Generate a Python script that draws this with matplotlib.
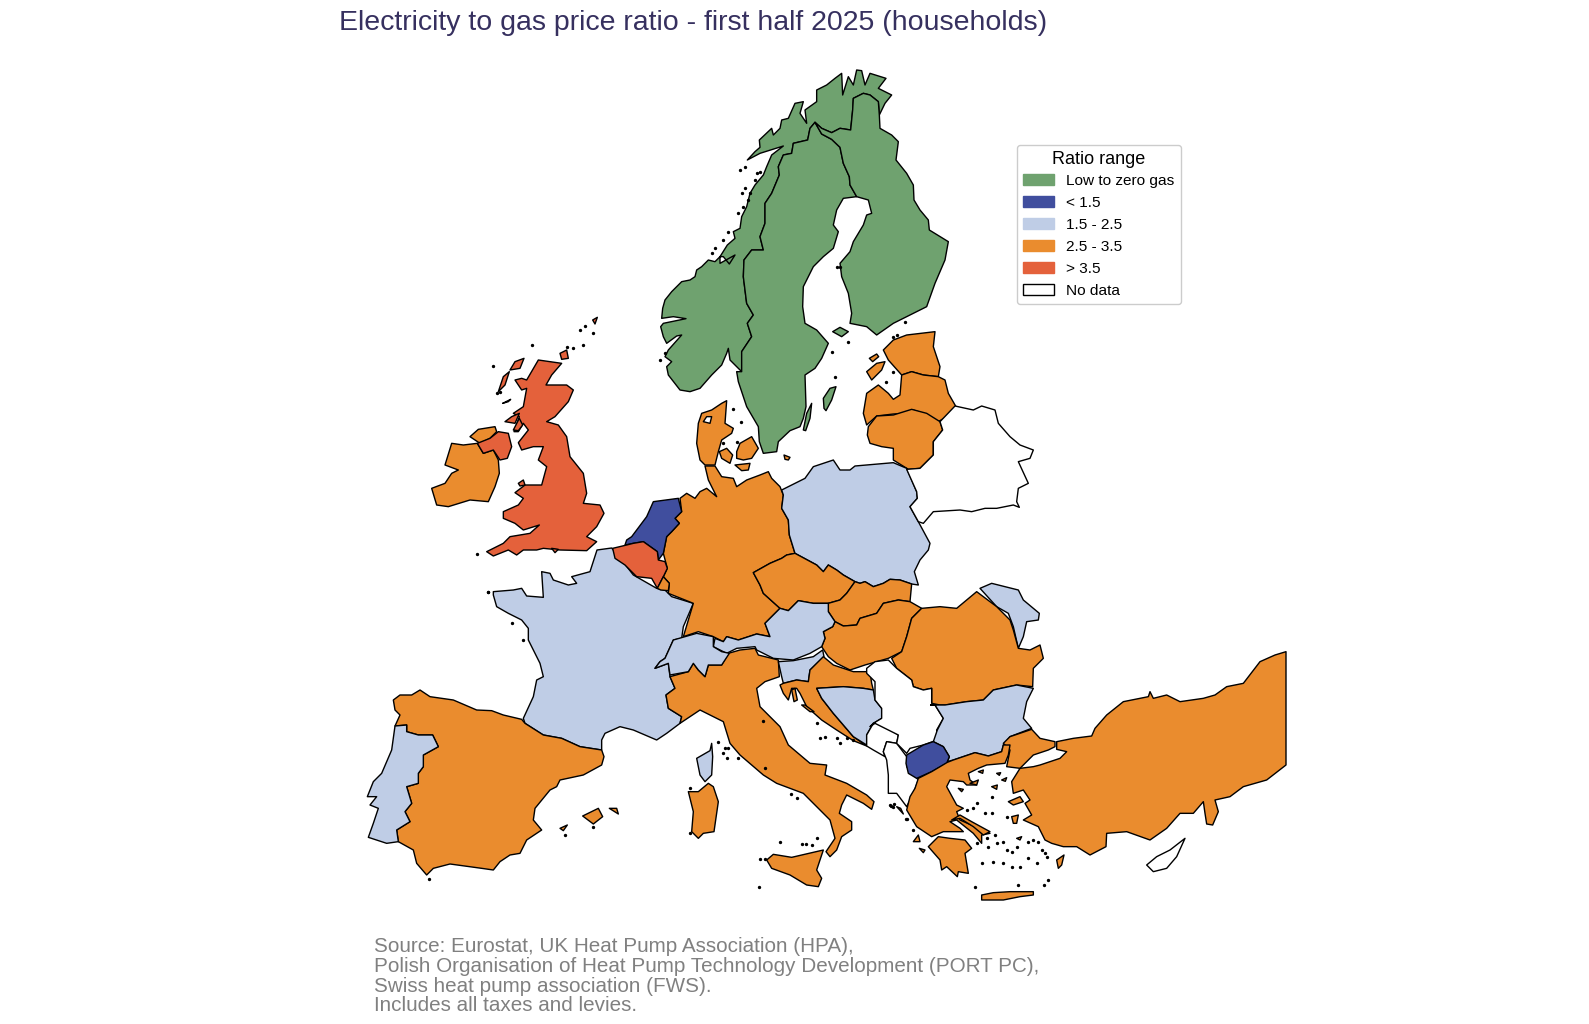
import matplotlib
matplotlib.use("Agg")
import matplotlib.pyplot as plt
from matplotlib.patches import Patch

plt.rcParams['font.family'] = ['Liberation Sans', 'DejaVu Sans']

# Couleurs des classes
GREEN = "#6fa26f"
DARK_BLUE = "#404e9e"
LIGHT_BLUE = "#bfcde6"
ORANGE = "#ea8c2e"
RED = "#e4613b"
WHITE = "#ffffff"

title = "Electricity to gas price ratio - first half 2025 (households)"
source_lines = ["Source: Eurostat, UK Heat Pump Association (HPA),",
                "Polish Organisation of Heat Pump Technology Development (PORT PC),",
                "Swiss heat pump association (FWS).",
                "Includes all taxes and levies."]
legend_labels = ["Low to zero gas", "< 1.5", "1.5 - 2.5", "2.5 - 3.5", "> 3.5", "No data"]
legend_colors = [GREEN, DARK_BLUE, LIGHT_BLUE, ORANGE, RED, WHITE]

# Map regions: contours are read region by region, at 3x, from these origins
NORTH = (640, 60)
WEST = (420, 310)
CENTRAL = (680, 380)
IBERIA = (350, 560)
ITALY = (640, 620)
EAST = (860, 630)

# --- North
norway = [(150,995),(120,990),(85,945),(80,920),(95,905),(75,890),(85,870),(125,825),(110,828),(80,850),(70,830),(62,800),(70,790),(138,776),(100,770),(65,775),(68,745),(75,720),(95,695),(105,685),(125,665),(150,660),(165,650),(170,630),(185,620),(205,600),(225,605),(240,590),(240,610),(285,585),(268,612),(250,590),(240,590),(262,555),(285,535),(280,515),(300,505),(305,470),(320,440),(330,400),(345,375),(370,345),(380,320),(395,285),(430,258),(360,280),(322,300),(345,275),(360,262),(358,240),(395,205),(400,225),(420,205),(425,180),(445,175),(465,130),(490,125),(480,160),(500,190),(495,150),(530,125),(530,90),(560,75),(585,55),(605,40),(608,105),(625,50),(640,75),(650,30),(665,32),(675,75),(690,40),(738,55),(715,85),(755,105),(735,130),(718,165),(715,125),(690,105),(670,100),(640,115),(638,150),(632,210),(600,205),(575,218),(545,205),(525,187),(510,205),(503,240),(460,250),(455,280),(430,285),(415,320),(418,345),(395,400),(375,430),(375,490),(360,530),(370,570),(335,570),(312,600),(310,650),(320,730),(340,765),(322,790),(335,830),(305,875),(305,935),(290,920),(270,900),(265,865),(260,880),(245,915),(215,945),(180,985)]
sweden = [(525,187),(545,222),(575,238),(600,262),(610,310),(628,350),(630,375),(650,410),(610,415),(590,450),(580,495),(595,515),(580,565),(550,590),(520,620),(490,680),(488,740),(495,790),(530,810),(565,850),(545,895),(525,925),(495,945),(498,1040),(490,1075),(480,1100),(450,1112),(415,1145),(410,1175),(370,1180),(358,1145),(355,1100),(320,1040),(295,965),(290,935),(305,935),(305,875),(335,830),(322,790),(340,765),(320,730),(310,650),(312,600),(335,570),(370,570),(360,530),(375,490),(375,430),(395,400),(418,345),(415,320),(430,285),(455,280),(460,250),(503,240),(510,205)]
finland = [(525,187),(545,205),(575,218),(600,205),(632,210),(638,150),(640,115),(670,100),(690,105),(715,125),(718,165),(720,205),(755,225),(775,245),(768,300),(800,340),(820,375),(822,420),(840,450),(865,480),(868,510),(925,545),(915,600),(885,670),(860,740),(800,770),(760,790),(710,825),(680,800),(630,790),(635,760),(625,700),(605,650),(600,610),(630,575),(640,545),(670,495),(680,465),(695,460),(685,420),(650,410),(630,375),(628,350),(610,310),(600,262),(575,238),(545,222)]
aland = [(578,815),(600,802),(625,815),(605,830)]
gotland = [(552,1045),(550,1015),(570,985),(588,980),(575,1020),(558,1052)]
oland = [(490,1110),(500,1060),(515,1030),(510,1075),(497,1112)]
estonia = [(730,870),(760,840),(800,825),(885,815),(880,860),(900,920),(895,950),(850,945),(815,935),(785,945),(745,900)]
saaremaa = [(680,935),(710,910),(735,905),(725,930),(695,960)]
hiiumaa = [(688,895),(710,882),(716,890),(698,905)]
latvia = [(670,1060),(680,1000),(715,975),(745,1000),(760,1018),(780,1005),(785,945),(815,935),(850,945),(895,950),(915,960),(925,1000),(948,1040),(920,1070),(895,1085),(850,1060),(820,1050),(800,1060),(760,1062),(710,1068),(680,1095)]

# --- Central
lithuania = [(565,140),(590,108),(640,105),(695,88),(740,100),(780,125),(788,150),(760,185),(760,225),(720,265),(685,268),(640,240),(640,205),(605,200),(570,190),(562,165)]
jutland = [(75,255),(60,240),(50,190),(55,130),(65,100),(95,90),(125,70),(140,62),(135,130),(160,145),(155,160),(125,180),(115,215),(105,255)]
limfjord = [(70,125),(80,110),(95,110),(90,130)]
zealand = [(170,215),(180,190),(215,170),(235,205),(215,235),(190,240),(170,235)]
funen = [(118,215),(140,205),(158,225),(150,250),(125,235)]
lolland = [(165,255),(210,250),(205,270),(185,272)]
bornholm = [(312,225),(330,232),(325,240),(315,238)]
germany = [(0,355),(20,340),(45,355),(60,335),(80,325),(110,350),(85,300),(75,258),(105,258),(125,290),(160,295),(170,320),(200,300),(240,285),(265,275),(275,295),(300,320),(310,345),(305,385),(325,420),(328,465),(345,520),(320,525),(305,535),(270,550),(220,578),(240,615),(250,640),(300,685),(255,730),(270,770),(230,762),(175,780),(140,770),(130,785),(100,770),(55,755),(10,770),(40,670),(-35,640),(-32,610),(-50,590),(-38,565),(-50,520),(-40,470),(-25,455),(-2,430),(-15,415),(5,395)]
poland = [(305,330),(375,295),(400,260),(460,240),(480,270),(510,270),(525,258),(640,248),(680,265),(710,335),(712,355),(690,380),(715,425),(750,490),(745,510),(720,540),(703,575),(715,615),(695,612),(660,600),(630,598),(610,610),(580,620),(555,605),(540,610),(525,605),(490,585),(470,570),(445,555),(430,575),(410,555),(345,520),(328,465),(325,420),(305,385),(310,345)]
belarus = [(680,268),(720,265),(760,225),(760,185),(788,150),(780,125),(825,78),(880,90),(905,78),(945,90),(955,130),(990,170),(1020,195),(1060,210),(1050,235),(1015,245),(1045,310),(1015,325),(1010,365),(1018,382),(1000,375),(950,385),(915,385),(875,395),(840,390),(760,395),(730,430),(715,425),(690,380),(712,355),(710,335)]
czechia = [(220,578),(270,550),(305,535),(320,525),(345,520),(410,555),(430,575),(445,555),(470,570),(490,585),(525,605),(500,640),(480,660),(445,670),(400,670),(355,662),(325,692),(300,685),(250,640),(240,615)]
slovakia = [(525,605),(540,610),(555,605),(580,620),(610,610),(630,598),(660,600),(695,612),(690,665),(655,660),(610,670),(590,700),(540,715),(530,735),(490,738),(465,725),(445,695),(445,670),(480,660),(500,640)]
hungary = [(465,725),(490,738),(530,735),(540,715),(590,700),(610,670),(655,660),(690,665),(725,685),(695,715),(680,770),(665,815),(625,835),(590,845),(555,855),(510,870),(470,850),(445,830),(425,800),(435,775),(430,755),(458,740)]
austria = [(300,685),(325,692),(355,662),(400,670),(445,670),(445,695),(465,725),(458,740),(430,755),(435,775),(425,800),(390,820),(340,840),(280,835),(230,810),(225,800),(170,805),(140,820),(100,800),(105,775),(130,785),(140,770),(175,780),(230,762),(270,770),(255,730)]
moldova = [(900,625),(935,610),(1015,630),(1030,660),(1078,700),(1075,720),(1040,725),(1030,770),(1015,805),(1000,740),(985,700),(950,680)]

# --- West
britain = [(355,150),(425,160),(395,195),(378,225),(440,225),(460,240),(445,275),(405,320),(380,335),(415,345),(440,380),(450,440),(490,490),(500,550),(490,580),(540,585),(552,610),(530,650),(500,680),(530,695),(500,722),(420,720),(370,715),(350,720),(310,720),(290,735),(265,720),(220,738),(200,725),(250,700),(270,680),(330,670),(358,645),(310,660),(285,640),(250,625),(250,605),(295,585),(310,565),(285,548),(315,525),(365,525),(380,470),(355,450),(370,410),(340,410),(305,420),(295,398),(325,360),(310,340),(295,365),(282,365),(298,320),(280,310),(310,290),(320,235),(305,240),(285,210),(305,205),(320,210)]
n_ireland = [(172,400),(210,385),(235,365),(265,370),(275,410),(262,445),(240,450),(220,420),(190,430)]
ireland = [(35,535),(75,520),(95,490),(115,480),(75,465),(95,400),(130,405),(172,400),(190,430),(220,420),(235,450),(238,490),(225,530),(205,575),(150,570),(85,590),(50,585)]
donegal = [(150,380),(175,358),(225,350),(230,365),(210,385),(180,400)]
uk_islands = [[(270,180),(285,155),(312,145),(300,175)],
              [(235,245),(250,200),(268,185),(255,225)],
              [(255,335),(275,320),(298,310),(285,340)],
              [(248,280),(272,268),(265,275)],
              [(280,360),(298,325),(308,345),(295,362)],
              [(295,520),(310,510),(315,525),(300,528)],
              [(420,130),(440,120),(445,145),(425,148)],
              [(518,30),(532,22),(525,42)],
              [(395,715),(415,718),(405,728)]]
netherlands = [(635,680),(680,620),(700,575),(775,565),(785,605),(765,625),(778,640),(755,665),(740,680),(730,730),(715,750),(712,725),(670,695),(640,700),(615,705),(620,690)]
belgium = [(578,715),(620,705),(640,700),(670,695),(712,725),(715,750),(735,755),(742,775),(730,800),(712,835),(695,805),(650,800),(615,765),(585,745)]
luxembourg = [(712,835),(730,800),(748,820),(745,842),(722,840)]

# --- Iberia / France
france = [(430,95),(490,90),(515,85),(530,108),(580,112),(575,35),(600,40),(610,60),(655,75),(680,70),(665,50),(720,35),(741,-30),(785,-36),(815,0),(850,45),(920,85),(945,90),(965,110),(1030,130),(1000,200),(995,235),(970,240),(945,295),(930,305),(915,325),(955,310),(960,350),(975,385),(948,405),(955,445),(995,470),(990,490),(950,520),(920,540),(850,510),(810,500),(765,520),(755,540),(755,570),(690,560),(635,535),(580,525),(525,490),(520,475),(550,410),(560,360),(580,350),(570,310),(555,280),(535,240),(535,205),(515,180),(475,160),(440,140),(430,105)]
spain = [(130,420),(150,405),(185,405),(210,390),(240,410),(310,420),(380,450),(425,452),(460,465),(515,478),(525,490),(580,525),(635,535),(690,560),(755,570),(762,590),(755,615),(700,645),(630,660),(620,680),(600,690),(555,745),(550,780),(575,810),(530,840),(510,880),(480,885),(450,905),(430,930),(395,925),(300,912),(250,925),(230,945),(200,910),(190,870),(145,845),(140,810),(180,785),(165,755),(185,730),(170,680),(205,670),(205,640),(220,620),(220,585),(265,560),(248,525),(205,525),(170,515),(170,495),(135,498),(150,465),(135,450)]
portugal = [(135,498),(170,495),(170,515),(205,525),(248,525),(265,560),(220,585),(220,620),(205,640),(205,670),(170,680),(185,730),(165,755),(180,785),(140,810),(145,845),(110,850),(55,832),(70,790),(85,745),(60,735),(80,710),(52,710),(70,665),(95,640),(125,570)]
mallorca = [(698,768),(745,745),(758,770),(730,792)]
menorca = [(778,745),(800,745),(805,762)]
ibiza = [(630,805),(652,795),(640,812)]

# --- Italy / Adriatic
italy = [(90,170),(145,155),(160,130),(175,150),(195,170),(205,135),(245,135),(265,100),(300,90),(345,85),(355,105),(415,120),(418,170),(375,185),(350,205),(360,260),(420,320),(445,375),(510,430),(560,435),(555,465),(620,490),(680,525),(702,545),(695,568),(670,550),(620,525),(605,555),(598,580),(635,605),(635,630),(605,650),(590,690),(570,710),(558,695),(585,655),(570,600),(535,565),(490,520),(410,490),(370,465),(300,405),(270,370),(250,305),(180,270),(120,310),(125,290),(85,265),(78,225),(105,205)]
sicily = [(380,720),(400,703),(455,712),(550,690),(530,750),(545,775),(535,800),(500,795),(450,765),(395,745)]
sardinia = [(145,515),(175,515),(205,490),(220,500),(235,545),(222,635),(190,640),(175,655),(155,635),(160,575)]
corsica = [(170,415),(210,392),(215,370),(218,410),(215,465),(195,485),(180,465)]
switzerland = [(45,145),(60,125),(75,115),(100,60),(170,40),(220,50),(220,80),(245,95),(268,100),(245,135),(205,135),(195,170),(175,150),(160,130),(145,155),(90,165),(85,130)]
slovenia = [(415,125),(460,122),(520,110),(548,90),(552,110),(510,150),(505,185),(470,180),(430,190),(425,170)]
croatia = [(420,195),(430,190),(470,180),(505,185),(510,150),(550,110),(580,135),(640,155),(690,155),(695,190),(700,210),(670,205),(610,200),(530,205),(545,235),(580,280),(640,350),(680,378),(640,362),(590,330),(545,300),(500,260),(480,220),(470,205),(455,205),(445,240),(430,220)]
croatia_islands = [[(455,210),(465,205),(472,240),(462,245)],
                   [(485,255),(495,255),(522,275),(510,275)]]
bosnia = [(530,205),(610,200),(670,205),(700,210),(705,240),(725,265),(725,295),(700,310),(680,345),(680,375),(640,350),(580,280),(545,235)]
montenegro = [(680,345),(700,310),(725,310),(775,345),(770,370),(740,365),(730,395),(735,410),(700,390),(680,378)]
albania = [(740,365),(770,370),(800,410),(800,440),(835,480),(820,520),(800,560),(770,520),(745,520),(745,465),(740,420),(730,395)]

# --- East
serbia = [(20,115),(45,95),(85,90),(110,115),(155,150),(160,170),(190,180),(215,175),(215,220),(225,225),(250,265),(230,300),(232,330),(190,345),(150,355),(140,370),(110,340),(115,315),(75,295),(45,280),(30,290),(40,280),(65,265),(65,235),(45,210),(45,180),(45,155),(20,130)]
macedonia = [(140,375),(190,345),(220,335),(250,350),(268,380),(260,400),(215,425),(170,445),(145,430),(138,400)]
bulgaria = [(212,225),(255,225),(320,215),(370,210),(400,180),(470,165),(520,175),(500,215),(490,265),(515,295),(450,320),(430,345),(425,365),(385,378),(345,368),(280,390),(262,395),(268,380),(250,350),(220,335),(232,300),(250,265),(225,225)]
romania = [(95,85),(125,65),(140,20),(155,-35),(185,-65),(240,-70),(290,-65),(350,-115),(410,-70),(450,-30),(460,0),(475,55),(510,60),(540,45),(550,85),(520,115),(518,170),(470,165),(400,180),(370,210),(320,215),(255,225),(240,225),(215,220),(215,175),(190,180),(160,170),(155,150),(110,115)]
thrace = [(515,298),(540,325),(585,335),(585,350),(565,360),(520,375),(480,415),(440,410),(450,360),(430,340),(450,320)]
anatolia = [(590,335),(640,325),(695,318),(705,295),(740,255),(790,215),(865,200),(870,185),(880,205),(920,195),(960,215),(1030,205),(1065,195),(1100,170),(1150,160),(1200,95),(1245,75),(1278,65),(1278,405),(1220,450),(1150,470),(1110,500),(1065,510),(1075,545),(1058,585),(1040,582),(1035,550),(1030,515),(1000,550),(960,550),(920,595),(870,630),(800,605),(740,610),(738,650),(690,675),(650,650),(610,650),(575,640),(555,630),(535,590),(490,570),(515,555),(495,520),(510,510),(490,480),(460,490),(455,455),(480,415),(520,410),(540,405),(600,385),(620,365),(590,358)]
greece = [(175,445),(215,425),(262,397),(280,390),(345,368),(385,378),(425,365),(430,345),(450,345),(445,375),(435,400),(380,405),(355,415),(325,430),(330,450),(350,465),(320,465),(310,455),(270,450),(260,470),(290,525),(310,535),(290,545),(300,570),(345,590),(390,610),(365,615),(365,640),(340,610),(290,570),(270,575),(300,595),(310,605),(250,605),(215,620),(200,610),(170,590),(140,540),(150,500),(165,475)]
peloponnese = [(205,650),(235,620),(270,625),(315,630),(335,655),(315,670),(325,730),(295,725),(292,740),(260,710),(245,720),(240,690)]
evia = [(275,570),(300,555),(335,575),(390,605),(370,615),(340,590),(300,565)]
crete = [(365,795),(400,788),(450,785),(520,785),(520,795),(480,800),(430,810),(365,810)]
greek_islands = [[(445,515),(480,500),(490,515),(460,525)],
                 [(455,560),(475,555),(470,580),(460,580)],
                 [(590,690),(612,675),(605,705),(595,715)],
                 [(395,470),(412,465),(410,478)],
                 [(355,425),(370,420),(368,430)],
                 [(410,430),(422,428),(418,436)],
                 [(425,450),(440,443),(436,454)],
                 [(330,460),(355,450),(350,465)],
                 [(110,530),(122,535),(130,552)],
                 [(160,635),(175,615),(180,635)],
                 [(178,655),(195,660),(190,668)],
                 [(470,625),(485,620),(480,630)],
                 [(295,475),(310,478),(305,485)]]
cyprus = [(860,705),(890,680),(930,660),(975,625),(950,680),(920,715),(880,725)]

# petites iles
dots_north = [(300,330),(315,320),(350,340),(360,335),(345,360),(315,385),(305,400),(330,400),(325,420),(310,440),(295,460),(265,515),(250,540),(225,565),(215,578),(60,900),(75,880),(585,950),(760,937),(738,965),(575,875),(590,620),(600,620),(795,785),(625,845),(760,830),(770,825),(280,1048),(303,1085),(290,1145),(250,1150)]
dots_west = [(172,732),(205,845),(218,168),(335,104),(480,60),(495,48),(490,105),(518,68),(442,112),(460,115),(240,245),(230,248)]
dots_iberia = [(415,95),(487,188),(520,240),(728,800),(645,825),(237,957)]
dots_italy = [(368,302),(374,444),(235,367),(250,398),(260,415),(293,413),(255,385),(265,385),(452,522),(470,535),(420,665),(485,673),(497,672),(530,655),(515,675),(360,718),(375,716),(357,800),(150,640),(150,505),(540,355),(555,352),(600,370),(530,310),(590,355),(620,355),(640,360),(752,557),(762,552),(798,598)]
dots_east = [(395,500),(350,520),(340,535),(320,540),(375,550),(440,560),(405,615),(430,635),(410,640),(385,650),(440,660),(470,650),(455,665),(505,635),(520,630),(535,635),(545,660),(555,670),(505,685),(530,700),(560,680),(365,698),(400,695),(430,700),(455,710),(480,710),(345,770),(475,765),(553,765),(565,750),(90,525),(100,530),(140,568),(160,600),(395,550),(350,640),(380,625)]

shapes = [(norway, NORTH, GREEN), (sweden, NORTH, GREEN), (finland, NORTH, GREEN), (aland, NORTH, GREEN),
          (gotland, NORTH, GREEN), (oland, NORTH, GREEN),
          (estonia, NORTH, ORANGE), (saaremaa, NORTH, ORANGE), (hiiumaa, NORTH, ORANGE), (latvia, NORTH, ORANGE),
          (lithuania, CENTRAL, ORANGE), (jutland, CENTRAL, ORANGE), (limfjord, CENTRAL, WHITE), (zealand, CENTRAL, ORANGE),
          (funen, CENTRAL, ORANGE), (lolland, CENTRAL, ORANGE), (bornholm, CENTRAL, ORANGE),
          (france, IBERIA, LIGHT_BLUE), (germany, CENTRAL, ORANGE), (poland, CENTRAL, LIGHT_BLUE), (belarus, CENTRAL, WHITE),
          (czechia, CENTRAL, ORANGE), (slovakia, CENTRAL, ORANGE), (hungary, CENTRAL, ORANGE), (austria, CENTRAL, LIGHT_BLUE),
          (moldova, CENTRAL, LIGHT_BLUE),
          (britain, WEST, RED), (ireland, WEST, ORANGE), (donegal, WEST, ORANGE), (n_ireland, WEST, RED),
          (netherlands, WEST, DARK_BLUE), (belgium, WEST, RED), (luxembourg, WEST, ORANGE),
          (spain, IBERIA, ORANGE), (portugal, IBERIA, LIGHT_BLUE), (mallorca, IBERIA, ORANGE), (menorca, IBERIA, ORANGE),
          (ibiza, IBERIA, ORANGE),
          (italy, ITALY, ORANGE), (sicily, ITALY, ORANGE), (sardinia, ITALY, ORANGE), (corsica, ITALY, LIGHT_BLUE),
          (switzerland, ITALY, LIGHT_BLUE), (slovenia, ITALY, LIGHT_BLUE), (croatia, ITALY, ORANGE), (bosnia, ITALY, LIGHT_BLUE),
          (montenegro, ITALY, WHITE), (albania, ITALY, WHITE),
          (romania, EAST, ORANGE), (serbia, EAST, WHITE), (bulgaria, EAST, LIGHT_BLUE), (macedonia, EAST, DARK_BLUE),
          (thrace, EAST, ORANGE), (anatolia, EAST, ORANGE), (greece, EAST, ORANGE), (peloponnese, EAST, ORANGE),
          (evia, EAST, ORANGE), (crete, EAST, ORANGE), (cyprus, EAST, WHITE)]
shapes += [(p, WEST, RED) for p in uk_islands]
shapes += [(p, ITALY, ORANGE) for p in croatia_islands]
shapes += [(p, EAST, ORANGE) for p in greek_islands]

dot_groups = [(dots_north, NORTH), (dots_west, WEST), (dots_iberia, IBERIA), (dots_italy, ITALY), (dots_east, EAST)]


def to_map(points, origin):
    xs = [origin[0] + p[0] / 3 for p in points]
    ys = [origin[1] + p[1] / 3 for p in points]
    return xs, ys


fig = plt.figure(figsize=(15.89, 10.24), dpi=100)
ax = fig.add_axes([0, 0, 1, 1])
ax.set_xlim(0, 1589)
ax.set_ylim(1024, 0)
ax.axis("off")

for points, origin, color in shapes:
    xs, ys = to_map(points, origin)
    ax.fill(xs, ys, facecolor=color, edgecolor="black", linewidth=1.0, joinstyle="round")

for points, origin in dot_groups:
    xs, ys = to_map(points, origin)
    ax.plot(xs, ys, "o", color="black", markersize=1.4, linestyle="none")

ax.text(339, 23, title, color="#36305f", fontsize=20.5, va="center", ha="left")

for i, line in enumerate(source_lines):
    ax.text(374, 947 + i * 19.5, line, color="#808080", fontsize=14.9, va="center", ha="left")

handles = [Patch(facecolor=c, edgecolor="black" if c == WHITE else c, linewidth=1.0) for c in legend_colors]
leg = ax.legend(handles, legend_labels, title="Ratio range", loc="upper left",
                bbox_to_anchor=(1017, 145), bbox_transform=ax.transData,
                fontsize=11.1, title_fontsize=13, frameon=True, framealpha=1,
                edgecolor="#cccccc", borderaxespad=0, labelspacing=0.52)
leg._legend_box.sep = 4

fig.savefig("out.png", dpi=100)
